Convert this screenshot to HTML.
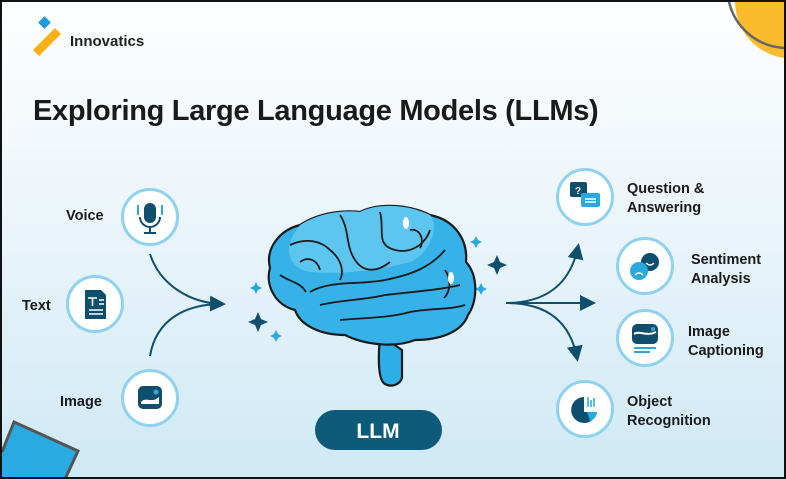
<!DOCTYPE html>
<html><head><style>
html,body{margin:0;padding:0;width:786px;height:479px;overflow:hidden}
body{position:relative;font-family:"Liberation Sans",sans-serif}
.frame{position:absolute;left:0;top:0;width:786px;height:479px;box-sizing:border-box;border:2px solid #111;background:linear-gradient(180deg,#fdfeff 0%,#eef6fb 40%,#cfe9f5 100%);overflow:hidden}
.t{position:absolute;color:#1a1a1a;font-weight:bold;font-size:14.5px;line-height:19px}
.c{position:absolute;width:52px;height:52px;border-radius:50%;background:#fff;border:3px solid #8fd2ef}
</style></head><body>
<div class="frame">
<svg width="782" height="475" viewBox="2 2 782 475" style="position:absolute;left:0;top:0;display:block">
<defs><marker id="a" markerWidth="8" markerHeight="8" refX="6" refY="4" orient="auto"><path d="M0,0 L8,4 L0,8 z" fill="#0f4f6e"/></marker></defs>
<path d="M735,2 A57,57 0 0 0 784,58 L784,2 Z" fill="#fbbb2c"/>
<path d="M729,2 A60,60 0 0 0 784,48" fill="none" stroke="#666" stroke-width="2.5"/>
<path d="M2,452 L14,422 L78,451 L66,477 L2,477 Z" fill="#29abe2"/>
<path d="M2,452 L14,422 L78,451 L66,477" fill="none" stroke="#555" stroke-width="3"/>
<rect x="40" y="18" width="9" height="9" fill="#1e9be0" transform="rotate(45 44.5 22.5)"/>
<path d="M33,50 L55,28 L61,34 L39,56 z" fill="#fbb018"/>
<path d="M150,254 C160,285 190,303 222,304" fill="none" stroke="#0f4f6e" stroke-width="2" marker-end="url(#a)"/>
<path d="M150,356 C156,320 185,304 222,304" fill="none" stroke="#0f4f6e" stroke-width="2"/>
<path d="M506,303 L592,303" fill="none" stroke="#0f4f6e" stroke-width="2" marker-end="url(#a)"/>
<path d="M506,303 C545,303 570,285 578,247" fill="none" stroke="#0f4f6e" stroke-width="2" marker-end="url(#a)"/>
<path d="M506,303 C545,303 570,320 577,358" fill="none" stroke="#0f4f6e" stroke-width="2" marker-end="url(#a)"/>
<g fill="#0f4f6e"><path d="M258,312 l3,7 7,3 -7,3 -3,7 -3,-7 -7,-3 7,-3z"/><path d="M497,255 l3,7 7,3 -7,3 -3,7 -3,-7 -7,-3 7,-3z"/></g>
<g fill="#2aa8df"><path d="M256,282 l2,4 4,2 -4,2 -2,4 -2,-4 -4,-2 4,-2z"/><path d="M276,330 l2,4 4,2 -4,2 -2,4 -2,-4 -4,-2 4,-2z"/><path d="M476,236 l2,4 4,2 -4,2 -2,4 -2,-4 -4,-2 4,-2z"/><path d="M481,283 l2,4 4,2 -4,2 -2,4 -2,-4 -4,-2 4,-2z"/></g>
<g stroke="#1b1b1b" stroke-width="2.2" stroke-linejoin="round">
<path d="M380,335 C378,360 378,380 385,384 C392,388 400,384 402,378 L402,350 Z" fill="#2eaee6"/>
<path d="M300,225 C320,212 345,210 360,212 C380,202 410,205 430,215 C455,220 468,240 466,262 C478,275 478,300 468,315 C462,332 440,340 415,340 C395,348 365,345 345,335 C320,335 300,325 295,310 C275,305 265,285 270,268 C265,248 280,230 300,225 Z" fill="#36b2e8"/>
<path d="M300,225 C320,212 345,210 360,212 C380,202 410,205 430,215 C440,225 430,255 410,262 C380,270 340,275 310,272 C290,268 280,250 300,225 Z" fill="#5cc6f0" stroke="none"/>
</g>
<g fill="none" stroke="#1b1b1b" stroke-width="1.8">
<path d="M290,245 C305,238 320,240 330,250 C340,258 345,270 340,280"/>
<path d="M340,215 C350,230 345,245 355,260 C365,275 380,270 390,262"/>
<path d="M380,212 C385,230 375,245 395,250 C410,254 425,245 430,230"/>
<path d="M310,292 C330,280 360,285 385,280 C410,275 430,268 445,250"/>
<path d="M320,305 C340,300 365,300 385,295 C410,292 440,290 460,285"/>
<path d="M340,320 C360,318 390,318 410,312 C430,308 450,310 465,305"/>
<path d="M300,262 C310,255 318,262 320,270"/>
<path d="M410,230 C420,228 425,240 420,248"/>
<path d="M445,270 C452,280 450,292 444,298"/>
<path d="M280,275 C290,282 300,282 306,292"/>
</g>
<g fill="#fff"><ellipse cx="406" cy="223" rx="3" ry="6"/><ellipse cx="451" cy="278" rx="3" ry="6"/></g>
<rect x="315" y="410" width="127" height="40" rx="20" fill="#0e5a7a"/>
<text x="378" y="438" text-anchor="middle" fill="#fff" font-family="Liberation Sans" font-weight="bold" font-size="21">LLM</text>
</svg>
<div class="t" style="left:68px;top:30px;font-size:15px;color:#222">Innovatics</div>
<div class="t" style="left:31px;top:92px;font-size:29px;line-height:34px;letter-spacing:-0.3px">Exploring Large Language Models (LLMs)</div>

<div class="c" style="left:119px;top:186px"><svg width="52" height="52"><rect x="20" y="12" width="12" height="20" rx="6" fill="#0f4f6e"/><path d="M16,26 a10,10 0 0 0 20,0 M26,36 v6 M20,42 h12" stroke="#0f4f6e" stroke-width="2" fill="none"/><path d="M14,14 v10 M38,14 v10" stroke="#2aa8df" stroke-width="2"/></svg></div>
<div class="c" style="left:64px;top:273px"><svg width="52" height="52"><path d="M16,12 h16 l5,5 v24 h-21z" fill="#0f4f6e"/><path d="M19,20 h9 M23.5,20 v8 M20,32 h14 M20,36 h14 M30,22 h5 M30,26 h5" stroke="#fff" stroke-width="1.6"/></svg></div>
<div class="c" style="left:119px;top:367px"><svg width="52" height="52"><rect x="14" y="14" width="24" height="23" rx="5" fill="#0f4f6e"/><path d="M17,30 c5,-6 10,2 18,-5 v7 h-18z" fill="#fff"/><circle cx="32" cy="20" r="2.5" fill="#2aa8df"/></svg></div>

<div class="c" style="left:554px;top:166px"><svg width="52" height="52"><rect x="11" y="11" width="17" height="15" rx="2" fill="#0f4f6e"/><text x="16" y="23" fill="#fff" font-size="10" font-weight="bold" font-family="Liberation Sans">?</text><rect x="22" y="22" width="19" height="14" rx="2" fill="#2aa8df"/><path d="M26,28 h11 M26,31 h11" stroke="#fff" stroke-width="1.4"/></svg></div>
<div class="c" style="left:614px;top:235px"><svg width="52" height="52"><circle cx="31" cy="22" r="9" fill="#0f4f6e"/><circle cx="20" cy="31" r="9" fill="#2aa8df"/><path d="M27,23 q4,4 8,0 M16,35 q4,-4 8,0" stroke="#fff" stroke-width="1.5" fill="none"/></svg></div>
<div class="c" style="left:614px;top:307px"><svg width="52" height="52"><rect x="13" y="12" width="26" height="20" rx="5" fill="#0f4f6e"/><path d="M15,22 c6,-4 12,3 22,-2" stroke="#fff" stroke-width="2" fill="none"/><circle cx="34" cy="17" r="2" fill="#2aa8df"/><path d="M15,36 h22 M15,40 h16" stroke="#2aa8df" stroke-width="2"/></svg></div>
<div class="c" style="left:554px;top:378px"><svg width="52" height="52"><path d="M25,14 a13,13 0 1 0 13,15 h-13z" fill="#0f4f6e"/><path d="M28,29 h10 a10,10 0 0 1 -7,9z" fill="#2aa8df"/><path d="M29,14 v10 M32,17 v7 M35,15 v9" stroke="#2aa8df" stroke-width="1.5"/></svg></div>

<div class="t" style="left:64px;top:205px">Voice</div>
<div class="t" style="left:20px;top:295px">Text</div>
<div class="t" style="left:58px;top:391px">Image</div>
<div class="t" style="left:625px;top:178px">Question &amp;<br>Answering</div>
<div class="t" style="left:689px;top:249px">Sentiment<br>Analysis</div>
<div class="t" style="left:686px;top:321px">Image<br>Captioning</div>
<div class="t" style="left:625px;top:391px">Object<br>Recognition</div>
</div>
</body></html>
